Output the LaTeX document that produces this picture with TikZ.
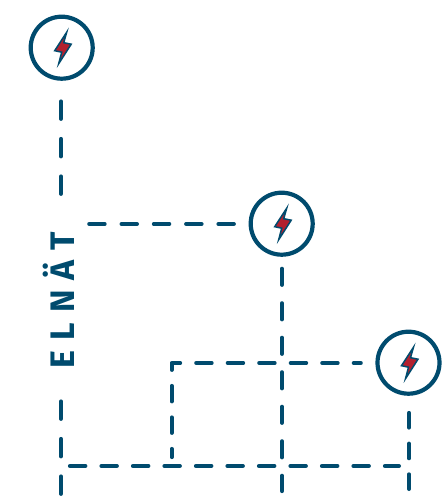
\documentclass[tikz,border=0pt]{standalone}
\usepackage{fontspec}
\setmainfont{Fira Sans}
\definecolor{navy}{HTML}{004B6E}
\definecolor{boltred}{HTML}{B3202E}
\tikzset{
  ring/.style={circle,draw=navy,line width=4.2pt,minimum size=62pt,inner sep=0pt,fill=white},
  wire/.style={draw=navy,line width=4pt,line cap=round,line join=round},
  bolt/.style={fill=boltred,draw=navy,line width=1.5pt,line join=miter},
  label/.style={text=navy,font=\fontsize{34}{34}\selectfont\bfseries,rotate=90,inner sep=0pt}
}
\begin{document}
\begin{tikzpicture}[x=1pt,y=-1pt]
\useasboundingbox (0,0) rectangle (441,497);
% free ends of the wires
\coordinate (a1) at (61,101.4);  \coordinate (a2) at (61,194);
\coordinate (a3) at (61,401.4);  \coordinate (a4) at (61,494.1);
\coordinate (b1) at (89.2,224);  \coordinate (b2) at (234,224);
\coordinate (c1) at (282,268.7); \coordinate (c2) at (282,491.1);
\coordinate (d1) at (409,412.9); \coordinate (d2) at (409,489.1);
\coordinate (e1) at (69.9,466);  \coordinate (e2) at (399,466);
\coordinate (f1) at (171.6,457.1); \coordinate (f0) at (171.6,363); \coordinate (f2) at (360.8,363);
% wires
\draw[wire,dash pattern=on 17.5pt off 20pt] (a1) -- (a2);
\draw[wire,dash pattern=on 17.5pt off 20pt] (a3) -- (a4);
\draw[wire,dash pattern=on 15.5pt off 16.8pt] (b1) -- (b2);
\draw[wire,dash pattern=on 16.2pt off 18.3pt] (c1) -- (c2);
\draw[wire,dash pattern=on 14.7pt off 16pt] (d1) -- (d2);
\draw[wire,dash pattern=on 15.5pt off 16pt] (e1) -- (e2);
\draw[wire,dash pattern=on 15.5pt off 16pt,dash phase=7.3pt] (f1) -- (f0) -- (f2);
% rings with bolts
\node[ring] (r1) at (61.7,47.7) {};
\node[ring] (r2) at (281.7,223.7) {};
\node[ring] (r3) at (408.5,362.7) {};
\foreach \n in {r1,r2,r3}
  \draw[bolt] (\n) ++(5,-15.5) -- ++(-12,18.5) -- ++(7,1.5) -- ++(-3,11.5) -- ++(12.5,-19.5) -- ++(-7.5,-1.5) -- cycle;
% label
\node[label] (elnat) at (58.5,300) {E\kern10pt L\kern10pt N\kern10pt Ä\kern10pt T};
\end{tikzpicture}
\end{document}
